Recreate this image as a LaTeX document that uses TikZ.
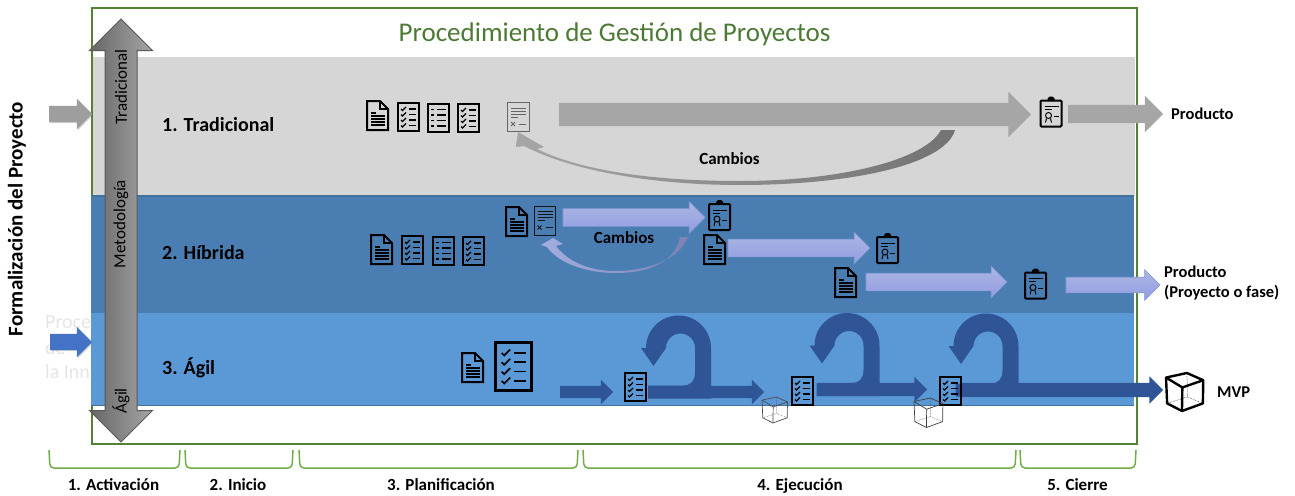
\documentclass[tikz,border=0pt]{standalone}
\usepackage{fontspec}
\setmainfont{Carlito}
\usetikzlibrary{shapes,arrows,shadows,positioning}
\definecolor{framegreen}{HTML}{548235}
\definecolor{titlegreen}{HTML}{4C7A34}
\definecolor{phasegreen}{HTML}{70AD47}
\definecolor{bandgray}{HTML}{D6D6D6}
\definecolor{bandmid}{HTML}{4A7EB3}
\definecolor{bandagile}{HTML}{5A99D6}
\definecolor{bandedge}{HTML}{41719C}
\definecolor{flatgray}{HTML}{A6A6A6}
\definecolor{lightblue}{HTML}{A3AEE0}
\definecolor{lightedge}{HTML}{7F97D6}
\definecolor{darkblue}{HTML}{2F5597}
\definecolor{inblue}{HTML}{4472C4}
\definecolor{paleend}{HTML}{7C82B2}

\tikzset{
  pics/docicon/.style={code={
    \draw (1,1) -- (14,1) -- (22,9) -- (22,30) -- (1,30) -- cycle;
    \draw (14,1) -- (14,9) -- (22,9);
    \draw [line width={0.75*\pgflinewidth}] (5,13) -- (10,13);
    \foreach \ypos in {16,19,22,25}
      \draw [line width={0.75*\pgflinewidth}] (5,\ypos) -- (19,\ypos);
  }},
  pics/checkicon/.style={code={
    \begin{scope}[scale=#1]
    \draw (1,1) rectangle (22,29);
    \foreach \ypos in {7,12.5,18,23.5} {
      \draw [line width={0.75*\pgflinewidth}] (4.5,\ypos) -- (6,{\ypos+1.5}) -- (9.5,{\ypos-2});
      \draw [line width={0.75*\pgflinewidth}] (12,\ypos) -- (19,\ypos);
    }
    \end{scope}
  }},
  pics/checkicon/.default=1,
  pics/listicon/.style={code={
    \draw (1,1) rectangle (22,29);
    \foreach \ypos in {7,12.5,18,23.5} {
      \draw [line width={0.9*\pgflinewidth}] (4.5,\ypos) -- (7,\ypos);
      \draw [line width={0.75*\pgflinewidth}] (10,\ypos) -- (19,\ypos);
    }
  }},
  pics/reporticon/.style={code={
    \draw [line width=0.9pt] (0.5,0.5) rectangle (22,29.5);
    \foreach \ypos/\xend in {6/19,9/19,12/19,15/11}
      \draw [line width=0.7pt] (4,\ypos) -- (\xend,\ypos);
    \draw [line width=0.8pt] (4,20) -- (8,24) (8,20) -- (4,24);
    \draw [line width=0.8pt] (12,22) -- (19,22);
  }},
  pics/certicon/.style={code={
    \draw [rounded corners=1pt] (1,4) rectangle (22,30);
    \fill (8,4.5) -- (8,2) -- (10,0) -- (13,0) -- (15,2) -- (15,4.5) -- cycle;
    \draw [line width=1pt] (5,10) -- (19,10) (5,13) -- (12,13);
    \draw [line width=1pt] (9,19) circle (3);
    \draw [line width=1pt] (7,22) -- (6,26) (11,22) -- (12,26);
    \draw [line width=1pt] (14,20) -- (19,20);
  }},
  pics/cubeicon/.style={code={
    \begin{scope}[scale=#1]
    \draw [line join=round] (55,0) -- (98,19) -- (97,80) -- (42,100) -- (3,80) -- (0,12) -- cycle;
    \draw [line join=round] (0,12) -- (43,38) -- (98,19) (43,38) -- (42,100);
    \draw [line width=0.5pt, densely dotted] (55,0) -- (56,63) (3,80) -- (56,63) -- (97,80);
    \end{scope}
  }},
  pics/turnarrow/.style={code={
    \fill (8,0) -- (8,-44) arc [start angle=0, end angle=-180, radius=32.5]
      -- (-62,-44) -- (-49.5,-26) -- (-37,-44)
      arc [start angle=-180, end angle=0, radius=14.5]
      -- (-8,-20) .. controls (-8,-11) and (-12,-6.5) .. (-20,-6.5)
      -- (-55,-6.5) -- (-55,6.5) -- (8,6.5) -- cycle;
  }}
}

\begin{document}
\begin{tikzpicture}[x=1pt,y=-1pt]
  \tikzstyle{frame} = [rectangle, draw=framegreen, line width=2pt, minimum width=1045pt, minimum height=435pt, anchor=north west, inner sep=0pt, outer sep=0pt]
  \tikzstyle{band} = [rectangle, minimum width=1043pt, anchor=north west, inner sep=0pt, outer sep=0pt]
  \tikzstyle{rowhead} = [font=\fontsize{20}{22}\selectfont\bfseries, anchor=west, inner sep=0pt]
  \tikzstyle{phase} = [font=\fontsize{17}{20}\selectfont\bfseries, inner sep=0pt, anchor=base]
  \tikzstyle{outlabel} = [font=\fontsize{16.5}{20}\selectfont\bfseries, anchor=west, align=left, inner sep=0pt]
  \tikzstyle{vlabel} = [font=\fontsize{17}{20}\selectfont, rotate=90, inner sep=0pt, text=black]
  \tikzstyle{ghost} = [font=\fontsize{20}{22}\selectfont, anchor=west, inner sep=0pt, text=black!10]
  \tikzstyle{block} = [single arrow, inner xsep=0pt, outer sep=0pt, single arrow tip angle=90, anchor=tail]
  \tikzstyle{grayblock} = [block, fill=flatgray]
  \tikzstyle{paleblock} = [block, top color=lightblue!90!white, bottom color=lightblue!90!blue, draw=lightedge, line width=0.6pt]
  \tikzstyle{darkblock} = [block, fill=darkblue]
  \tikzstyle{bracket} = [draw=phasegreen, line width=1.5pt, rounded corners=4pt]
  \tikzstyle{icon} = [line width=2pt, black]

  \useasboundingbox (0,0) rectangle (1295,495);

  \node (ghost1) [ghost] at (45,322) {Proce};
  \node (ghost2) [ghost] at (45,348) {de};
  \node (ghost3) [ghost] at (45,372) {la Inn};

  \node (band1) [band, fill=bandgray, minimum height=139pt] at (92,57) {};
  \node (frame) [frame] at (92,8.5) {};
  \node (band2) [band, fill=bandmid, minimum height=117pt] at (91,196) {};
  \node (band3) [band, fill=bandagile, minimum height=92pt] at (91,313) {};
  \draw [draw=bandedge, line width=1.2pt] (band2.north west) -- (band2.north east);
  \draw [draw=bandedge, line width=0.8pt] (band3.south west) -- (band3.south east);

  \node (title) [font=\fontsize{27}{30}\selectfont, text=titlegreen, inner sep=0pt] at (614.5,34.5) {Procedimiento de Gestión de Proyectos};
  \node (formal) [font=\fontsize{21}{24}\selectfont\bfseries, rotate=90, inner sep=0pt] at (17,219) {Formalización del Proyecto};

  \node (inGray) [block, inner ysep=8pt, fill=flatgray!95!black, minimum height=43pt, single arrow head extend=7pt, drop shadow={shadow xshift=1pt, shadow yshift=-1pt, opacity=.35}] at (49,114) {};
  \node (inBlue) [block, inner ysep=8pt, fill=inblue, minimum height=42pt, single arrow head extend=7pt, drop shadow={shadow xshift=1pt, shadow yshift=-1pt, opacity=.35}] at (50,342) {};

  \node (method) [double arrow, double arrow tip angle=90, double arrow head extend=15.5pt, minimum height=423pt, inner xsep=0pt, inner ysep=15.5pt, rotate=90, left color=black!60, right color=black!35, draw=black!65, line width=1pt] at (121,230.5) {};
  \node (methodTop) [vlabel] at (121,87) {Tradicional};
  \node (methodMid) [vlabel] at (121,224) {Metodología};
  \node (methodLow) [vlabel] at (121,401) {Ágil};

  \node (row1) [rowhead] at (162,125) {1. Tradicional};
  \node (row2) [rowhead] at (162,253) {2. Híbrida};
  \node (row3) [rowhead] at (162,368) {3. Ágil};

  % tradicional
  \pic [icon] at (366,100) {docicon};
  \pic [icon] at (396.5,102) {checkicon};
  \pic [icon] at (426.5,102.5) {listicon};
  \pic [icon] at (456.5,103) {checkicon};
  \pic [black!60] at (507,102) {reporticon};
  \pic [icon] at (1039.5,96.5) {certicon};
  \node (arrowTrad) [grayblock, inner ysep=11.5pt, minimum height=472pt, single arrow head extend=11pt] at (559,114.5) {};
  \node (arrowTradOut) [grayblock, inner ysep=9pt, minimum height=95pt, single arrow head extend=9pt] at (1068,114) {};
  \shade [left color=flatgray, right color=black!55]
    (955,130) .. controls (945,165) and (850,185) .. (740,185)
    .. controls (650,185) and (570,170) .. (524,146)
    -- (516,147) -- (518,132) -- (544,147) -- (537,149)
    .. controls (580,170) and (650,181) .. (740,181)
    .. controls (840,181) and (925,160) .. (941,130) -- cycle;
  \node (changes1) [font=\fontsize{17}{20}\selectfont\bfseries, inner sep=0pt] at (729.5,159) {Cambios};
  \node (product1) [outlabel] at (1171,114) {Producto};

  % hibrida
  \pic [icon] at (370,234) {docicon};
  \pic [icon] at (400.5,235) {checkicon};
  \pic [icon] at (431.5,235.5) {listicon};
  \pic [icon] at (461.5,236) {checkicon};
  \pic [icon] at (505,206) {docicon};
  \pic [black!85!bandmid] at (533.5,205.5) {reporticon};
  \node (arrowHybA) [paleblock, inner ysep=8.5pt, minimum height=142pt, single arrow head extend=7pt] at (563,217.5) {};
  \node (arrowHybB) [paleblock, inner ysep=8.5pt, minimum height=142pt, single arrow head extend=7pt] at (728,248) {};
  \node (arrowHybC) [paleblock, inner ysep=8.5pt, minimum height=141pt, single arrow head extend=7pt] at (866,282) {};
  \node (arrowHybOut) [paleblock, inner ysep=7.5pt, minimum height=94pt, single arrow head extend=7.5pt] at (1066,285) {};
  \pic [icon] at (708,200) {certicon};
  \pic [icon] at (703,234) {docicon};
  \pic [icon] at (876,233) {certicon};
  \pic [icon] at (834,267) {docicon};
  \pic [icon] at (1024,268.5) {certicon};
  \shade [left color=lightblue, right color=paleend]
    (688,237) .. controls (680,258) and (650,271) .. (615,271)
    .. controls (590,271) and (568,262) .. (556,246)
    -- (563,244) -- (553,238) -- (541,245) -- (547,247)
    .. controls (560,265) and (590,273) .. (615,273)
    .. controls (650,273) and (675,262) .. (680,237) -- cycle;
  \node (changes2) [font=\fontsize{17}{20}\selectfont\bfseries, inner sep=0pt] at (624,238) {Cambios};
  \node (product2) [outlabel] at (1164,283) {Producto\\(Proyecto o fase)};

  % agil
  \pic [icon] at (461,352) {docicon};
  \pic [black, line width=3pt] at (494,341) {checkicon=1.7};
  \pic [darkblue] at (703,392) {turnarrow};
  \pic [darkblue] at (871.5,389.5) {turnarrow};
  \pic [darkblue] at (1010.5,390) {turnarrow};
  \node (arrowAgile) [darkblock, inner ysep=6pt, minimum height=53pt, single arrow head extend=6pt] at (560,392) {};
  \node (arrowAgileA) [darkblock, inner ysep=6pt, minimum height=116pt, single arrow head extend=6pt] at (648,392) {};
  \node (arrowAgileB) [darkblock, inner ysep=6.5pt, minimum height=110pt, single arrow head extend=6pt] at (817,389.5) {};
  \node (arrowAgileOut) [darkblock, inner ysep=7pt, minimum height=201pt, single arrow head extend=6.5pt] at (962,390) {};
  \pic [icon] at (623.5,372) {checkicon};
  \pic [icon] at (790.5,376) {checkicon};
  \pic [icon] at (938.5,376) {checkicon};
  \pic [black!70, line width=0.7pt] at (762,397) {cubeicon=.26};
  \pic [black!75, line width=0.7pt] at (914,398) {cubeicon=.295};
  \pic [black, line width=2.4pt] at (1166,373) {cubeicon=.38};
  \node (mvp) [outlabel] at (1217,392) {MVP};

  \draw [bracket] (49,450) -- (50,468) -- (179,468) -- (180,450);
  \draw [bracket] (185,450) -- (186,468) -- (292,468) -- (293,450);
  \draw [bracket] (299,450) -- (300,468) -- (577,468) -- (578,450);
  \draw [bracket] (583,450) -- (584,468) -- (1015,468) -- (1016,450);
  \draw [bracket] (1020,450) -- (1021,468) -- (1135,468) -- (1136,450);
  \node (phase1) [phase] at (113.5,490) {1. Activación};
  \node (phase2) [phase] at (238,490) {2. Inicio};
  \node (phase3) [phase] at (441,490) {3. Planificación};
  \node (phase4) [phase] at (800,490) {4. Ejecución};
  \node (phase5) [phase] at (1077.5,490) {5. Cierre};
\end{tikzpicture}
\end{document}
